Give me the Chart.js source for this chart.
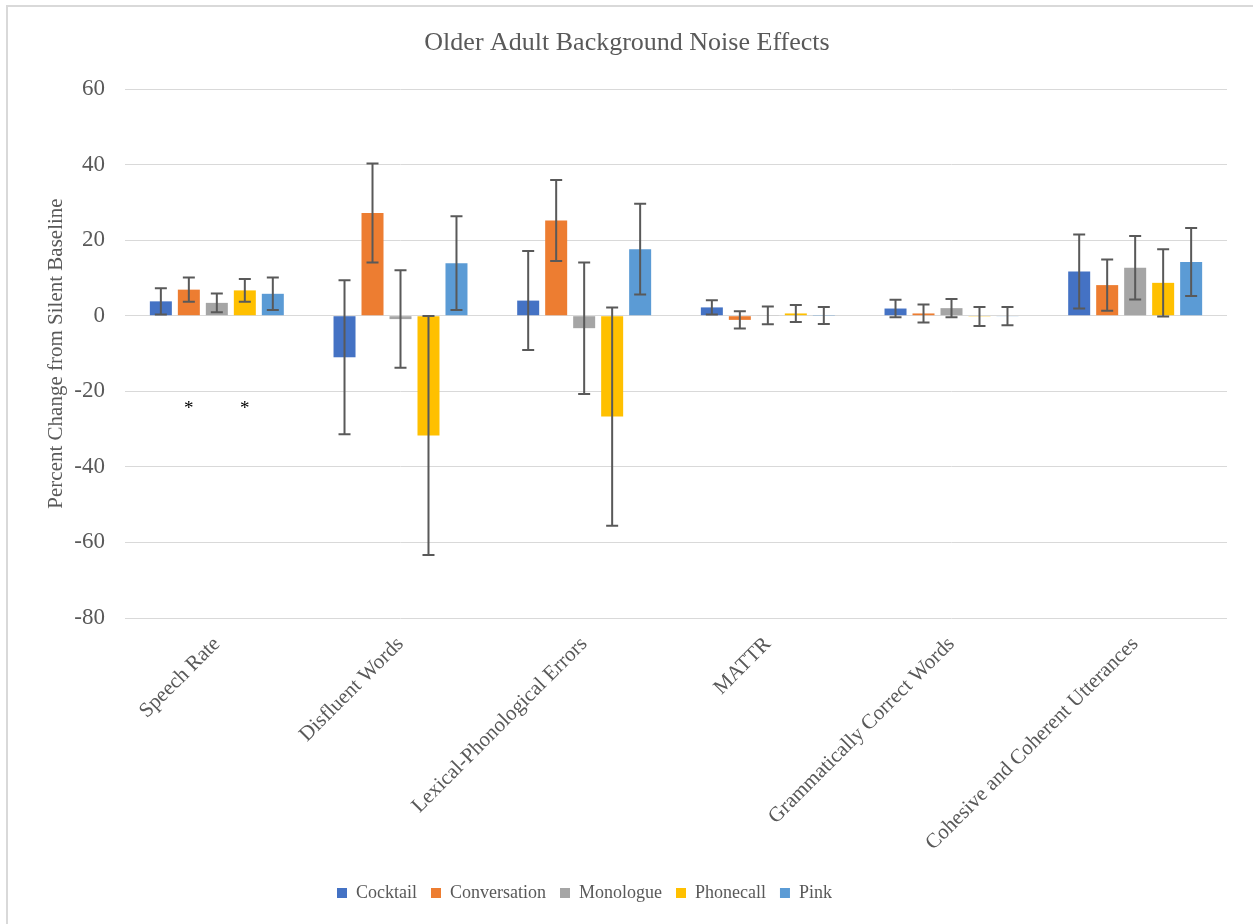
<!DOCTYPE html>
<html>
<head>
<meta charset="utf-8">
<script src="https://cdn.jsdelivr.net/npm/chart.js@4.4.1/dist/chart.umd.min.js"></script>
<style>
html,body{margin:0;padding:0;background:#fff;overflow:hidden;width:1253px;height:924px;}
#frame{position:absolute;left:6px;top:5px;width:1400px;height:1100px;border-left:2px solid #D9D9D9;border-top:2px solid #D9D9D9;}
#wrap{position:absolute;left:0;top:0;width:1253px;height:924px;}
</style>
</head>
<body>
<div id="frame"></div>
<div id="wrap"><canvas id="c" width="1253" height="924"></canvas></div>
<script>
// ---- data ----
const categories = ['Speech Rate', 'Disfluent Words', 'Lexical-Phonological Errors', 'MATTR', 'Grammatically Correct Words', 'Cohesive and Coherent Utterances'];
const seriesNames = ['Cocktail', 'Conversation', 'Monologue', 'Phonecall', 'Pink'];

const cocktail        = [3.8, -11.0, 4.0, 2.2, 1.9, 11.7];
const cocktailErr     = [3.5, 20.4, 13.1, 1.9, 2.3, 9.8];
const conversation    = [6.9, 27.2, 25.2, -1.1, 0.6, 8.1];
const conversationErr = [3.2, 13.1, 10.7, 2.3, 2.4, 6.8];
const monologue       = [3.4, -0.9, -3.3, 0.1, 2.0, 12.7];
const monologueErr    = [2.5, 12.9, 17.4, 2.35, 2.4, 8.4];
const phonecall       = [6.7, -31.7, -26.7, 0.6, -0.2, 8.7];
const phonecallErr    = [3.0, 31.6, 28.9, 2.25, 2.5, 8.9];
const pink            = [5.8, 13.9, 17.6, 0.05, -0.1, 14.2];
const pinkErr         = [4.3, 12.4, 12.0, 2.25, 2.4, 9.0];

const yTicks = [60, 40, 20, 0, -20, -40, -60, -80];

// significance markers (series, category)
const sigMarks = [
  {series: 'Conversation', category: 'Speech Rate'},
  {series: 'Phonecall', category: 'Speech Rate'}
];

// ---- styling ----
const SERIF = "'Liberation Serif', 'Times New Roman', serif";
const TXT = '#595959';
const colors = ['#4472C4', '#ED7D31', '#A5A5A5', '#FFC000', '#5B9BD5'];
const values = [cocktail, conversation, monologue, phonecall, pink];
const errs = [cocktailErr, conversationErr, monologueErr, phonecallErr, pinkErr];

const datasets = seriesNames.map((name, i) => ({
  label: name,
  data: values[i],
  errors: errs[i],
  backgroundColor: colors[i],
  borderWidth: 0,
  categoryPercentage: 0.762,
  barPercentage: 0.786
}));

const errorBarPlugin = {
  id: 'errorBars',
  afterDatasetsDraw(chart) {
    const ctx = chart.ctx;
    const ys = chart.scales.y;
    chart.data.datasets.forEach((ds, i) => {
      const meta = chart.getDatasetMeta(i);
      if (meta.hidden) return;
      meta.data.forEach((bar, j) => {
        const v = ds.data[j], e = ds.errors[j];
        const top = ys.getPixelForValue(v + e);
        const bot = ys.getPixelForValue(v - e);
        const x = bar.x;
        ctx.save();
        ctx.strokeStyle = '#595959';
        ctx.lineWidth = 2;
        ctx.beginPath();
        ctx.moveTo(x, top); ctx.lineTo(x, bot);
        ctx.moveTo(x - 6, top); ctx.lineTo(x + 6, top);
        ctx.moveTo(x - 6, bot); ctx.lineTo(x + 6, bot);
        ctx.stroke();
        ctx.restore();
      });
    });
  }
};

const sigPlugin = {
  id: 'sigMarks',
  afterDatasetsDraw(chart) {
    const ctx = chart.ctx;
    const ys = chart.scales.y;
    ctx.save();
    ctx.fillStyle = '#000';
    ctx.font = '19px ' + SERIF;
    ctx.textAlign = 'center';
    ctx.textBaseline = 'middle';
    sigMarks.forEach(m => {
      const di = seriesNames.indexOf(m.series);
      const ci = categories.indexOf(m.category);
      const bar = chart.getDatasetMeta(di).data[ci];
      ctx.fillText('*', bar.x, ys.getPixelForValue(-24.7));
    });
    ctx.restore();
  }
};

const blockShift = {
  id: 'blockShift',
  afterLayout(chart) {
    const l = chart.legend;
    if (l) { l.left -= 29; l.right -= 29; }
    const t = chart.titleBlock;
    if (t) { t.left += 13.5; t.right += 13.5; }
  }
};

new Chart(document.getElementById('c'), {
  type: 'bar',
  data: { labels: categories, datasets },
  plugins: [errorBarPlugin, sigPlugin, blockShift],
  options: {
    responsive: false,
    animation: false,
    layout: { padding: { left: 0, right: 26, top: 0, bottom: 12 } },
    plugins: {
      title: {
        display: true,
        text: 'Older Adult Background Noise Effects',
        color: TXT,
        font: { family: SERIF, size: 26, weight: 'normal' },
        padding: { top: 28, bottom: 29.8 }
      },
      legend: {
        display: true,
        position: 'bottom',
        labels: {
          color: TXT,
          font: { family: SERIF, size: 18 },
          boxWidth: 10,
          boxHeight: 10,
          padding: 14
        }
      },
      tooltip: { enabled: false }
    },
    scales: {
      x: {
        grid: { display: false },
        border: { display: false },
        ticks: {
          color: TXT,
          font: { family: SERIF, size: 21 },
          minRotation: 45,
          maxRotation: 45,
          autoSkip: false,
          padding: 6
        },
        afterFit(scale) {
          const lh = scale.chart.legend ? scale.chart.legend.height : 42;
          scale.height = 924 - 618 - lh - 12;
        }
      },
      y: {
        min: -80,
        max: 60,
        afterBuildTicks(scale) {
          scale.ticks = yTicks.slice().reverse().map(v => ({ value: v }));
        },
        grid: { color: '#D9D9D9', lineWidth: 1, drawTicks: false },
        border: { display: false },
        ticks: {
          color: TXT,
          font: { family: SERIF, size: 23 },
          padding: 20
        },
        title: {
          display: true,
          text: 'Percent Change from Silent Baseline',
          color: TXT,
          font: { family: SERIF, size: 21 },
          padding: { top: 44, bottom: 0 }
        },
        afterFit(scale) { scale.width = 125; }
      }
    }
  }
});
</script>
</body>
</html>
